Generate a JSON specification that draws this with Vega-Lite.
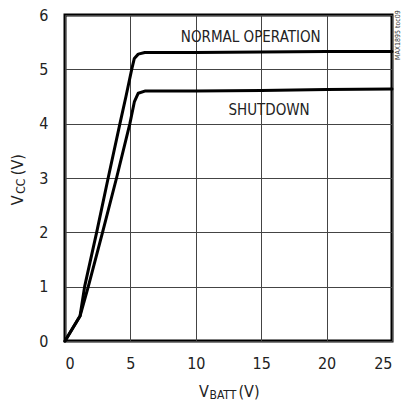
{
  "$schema": "https://vega.github.io/schema/vega-lite/v6.json",
  "width": 327,
  "height": 326,
  "autosize": {"type": "none"},
  "padding": {"left": 65, "top": 15, "right": 11, "bottom": 61},
  "background": "white",
  "config": {
    "view": {"stroke": "black", "strokeWidth": 3},
    "font": "'DejaVu Sans Condensed', sans-serif",
    "text": {"font": "'DejaVu Sans Condensed', sans-serif"},
    "axis": {
      "labelFont": "'DejaVu Sans Condensed', sans-serif",
      "labelFontSize": 16,
      "labelColor": "#222",
      "format": "d",
      "tickSize": 0,
      "domain": false,
      "grid": true,
      "gridColor": "#444",
      "gridWidth": 1,
      "gridOpacity": 1
    }
  },
  "datasets": {
    "curves": [
      {"series": "NORMAL OPERATION", "vbatt": 0, "vcc": 0},
      {"series": "NORMAL OPERATION", "vbatt": 1.15, "vcc": 0.46},
      {"series": "NORMAL OPERATION", "vbatt": 1.5, "vcc": 1.0},
      {"series": "NORMAL OPERATION", "vbatt": 2.42, "vcc": 2.0},
      {"series": "NORMAL OPERATION", "vbatt": 3.3, "vcc": 3.0},
      {"series": "NORMAL OPERATION", "vbatt": 4.2, "vcc": 4.0},
      {"series": "NORMAL OPERATION", "vbatt": 4.66, "vcc": 4.5},
      {"series": "NORMAL OPERATION", "vbatt": 5.1, "vcc": 5.0},
      {"series": "NORMAL OPERATION", "vbatt": 5.3, "vcc": 5.2},
      {"series": "NORMAL OPERATION", "vbatt": 5.6, "vcc": 5.28},
      {"series": "NORMAL OPERATION", "vbatt": 6.1, "vcc": 5.31},
      {"series": "NORMAL OPERATION", "vbatt": 10, "vcc": 5.31},
      {"series": "NORMAL OPERATION", "vbatt": 15, "vcc": 5.32},
      {"series": "NORMAL OPERATION", "vbatt": 20, "vcc": 5.33},
      {"series": "NORMAL OPERATION", "vbatt": 25, "vcc": 5.33},
      {"series": "SHUTDOWN", "vbatt": 0, "vcc": 0},
      {"series": "SHUTDOWN", "vbatt": 1.15, "vcc": 0.46},
      {"series": "SHUTDOWN", "vbatt": 1.78, "vcc": 1.0},
      {"series": "SHUTDOWN", "vbatt": 2.87, "vcc": 2.0},
      {"series": "SHUTDOWN", "vbatt": 3.94, "vcc": 3.0},
      {"series": "SHUTDOWN", "vbatt": 4.96, "vcc": 4.0},
      {"series": "SHUTDOWN", "vbatt": 5.3, "vcc": 4.4},
      {"series": "SHUTDOWN", "vbatt": 5.6, "vcc": 4.56},
      {"series": "SHUTDOWN", "vbatt": 6.1, "vcc": 4.6},
      {"series": "SHUTDOWN", "vbatt": 10, "vcc": 4.6},
      {"series": "SHUTDOWN", "vbatt": 15, "vcc": 4.61},
      {"series": "SHUTDOWN", "vbatt": 20, "vcc": 4.63},
      {"series": "SHUTDOWN", "vbatt": 25, "vcc": 4.64}
    ],
    "labels": [
      {"label": "NORMAL OPERATION", "vbatt": 14.2, "vcc": 5.6},
      {"label": "SHUTDOWN", "vbatt": 15.6, "vcc": 4.25}
    ]
  },
  "layer": [
    {
      "data": {"name": "curves"},
      "mark": {"type": "line", "strokeWidth": 3, "color": "black", "strokeJoin": "round", "strokeCap": "round"},
      "encoding": {
        "x": {
          "field": "vbatt", "type": "quantitative",
          "scale": {"domain": [0, 25], "nice": false},
          "axis": {"values": [0, 5, 10, 15, 20, 25], "labelPadding": 14, "title": null}
        },
        "y": {
          "field": "vcc", "type": "quantitative",
          "scale": {"domain": [0, 6], "nice": false},
          "axis": {"values": [0, 1, 2, 3, 4, 5, 6], "labelPadding": 17, "title": null}
        },
        "detail": {"field": "series"}
      }
    },
    {
      "data": {"name": "labels"},
      "mark": {"type": "text", "fontSize": 15, "color": "#222", "align": "center", "baseline": "middle"},
      "encoding": {
        "x": {"field": "vbatt", "type": "quantitative"},
        "y": {"field": "vcc", "type": "quantitative"},
        "text": {"field": "label"}
      }
    },
    {
      "data": {"values": [{"t": "MAX1895 toc09", "vbatt": 25, "vcc": 5.63}]},
      "mark": {"type": "text", "fontSize": 7, "angle": 270, "align": "center", "baseline": "middle", "dy": 6, "color": "#333"},
      "encoding": {
        "x": {"field": "vbatt", "type": "quantitative"},
        "y": {"field": "vcc", "type": "quantitative"},
        "text": {"field": "t"}
      }
    },
    {
      "data": {"values": [{"t": "V", "vbatt": 12.5, "vcc": 0}]},
      "mark": {"type": "text", "fontSize": 16, "align": "left", "baseline": "alphabetic", "dx": -29.5, "dy": 56, "color": "#222"},
      "encoding": {"x": {"field": "vbatt", "type": "quantitative"}, "y": {"field": "vcc", "type": "quantitative"}, "text": {"field": "t"}}
    },
    {
      "data": {"values": [{"t": "BATT", "vbatt": 12.5, "vcc": 0}]},
      "mark": {"type": "text", "fontSize": 12, "align": "left", "baseline": "alphabetic", "dx": -19, "dy": 58, "color": "#222"},
      "encoding": {"x": {"field": "vbatt", "type": "quantitative"}, "y": {"field": "vcc", "type": "quantitative"}, "text": {"field": "t"}}
    },
    {
      "data": {"values": [{"t": "(V)", "vbatt": 12.5, "vcc": 0}]},
      "mark": {"type": "text", "fontSize": 16, "align": "left", "baseline": "alphabetic", "dx": 10, "dy": 56, "color": "#222"},
      "encoding": {"x": {"field": "vbatt", "type": "quantitative"}, "y": {"field": "vcc", "type": "quantitative"}, "text": {"field": "t"}}
    },
    {
      "data": {"values": [{"t": "V", "vbatt": 0, "vcc": 2.5}]},
      "mark": {"type": "text", "fontSize": 16, "angle": 270, "align": "left", "baseline": "alphabetic", "dx": 0, "dy": -42, "color": "#222"},
      "encoding": {"x": {"field": "vbatt", "type": "quantitative"}, "y": {"field": "vcc", "type": "quantitative"}, "text": {"field": "t"}}
    },
    {
      "data": {"values": [{"t": "CC", "vbatt": 0, "vcc": 2.5}]},
      "mark": {"type": "text", "fontSize": 12, "angle": 270, "align": "left", "baseline": "alphabetic", "dx": 11.5, "dy": -40, "color": "#222"},
      "encoding": {"x": {"field": "vbatt", "type": "quantitative"}, "y": {"field": "vcc", "type": "quantitative"}, "text": {"field": "t"}}
    },
    {
      "data": {"values": [{"t": "(V)", "vbatt": 0, "vcc": 2.5}]},
      "mark": {"type": "text", "fontSize": 16, "angle": 270, "align": "left", "baseline": "alphabetic", "dx": 30, "dy": -42, "color": "#222"},
      "encoding": {"x": {"field": "vbatt", "type": "quantitative"}, "y": {"field": "vcc", "type": "quantitative"}, "text": {"field": "t"}}
    }
  ]
}
